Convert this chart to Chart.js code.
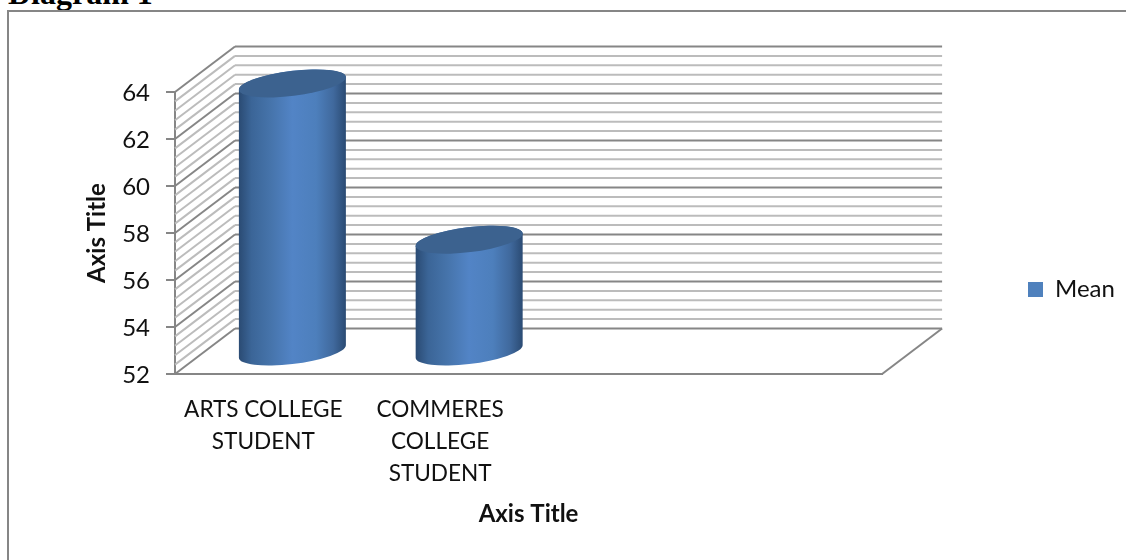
<!DOCTYPE html>
<html>
<head>
<meta charset="utf-8"/>
<title>Diagram 1</title>
<style>
    html, body { margin: 0; padding: 0; background: #fff; overflow: hidden; }
    #wrap { position: relative; width: 1126px; height: 560px; overflow: hidden; }
    #heading { position: absolute; left: 8px; top: -25px; font: bold 32px "Liberation Serif", serif; line-height: 37px; color: #000; }
    canvas { position: absolute; left: 0; top: 0; }
</style>
</head>
<body>
<div id="wrap">
    <div id="heading">Diagram 1</div>
    <canvas id="chart" width="1126" height="560"></canvas>
</div>

<script src="https://cdn.jsdelivr.net/npm/chart.js@4/dist/chart.umd.min.js"></script>
<script type="text/javascript">

const categories = [["ARTS COLLEGE", "STUDENT"], ["COMMERES", "COLLEGE", "STUDENT"], "", ""];
const meanValues = [63.45, 56.8, null, null];
const seriesName = "Mean";
const xTitle = "Axis Title";
const yTitle = "Axis Title";
const yMin = 52;
const yMax = 64;
const yStep = 2;

// the floor and side wall recede by this much, front plane to back plane
const DEPTH_X = 60;
const DEPTH_Y = -45.5;
// where the cylinders stand on the floor, relative to the front plane
const CYL_X = 29;
const CYL_Y = -21.5;
const WALL_DIVISIONS = 5;
const AXIS_GREY = "#868686";
const MINOR_GREY = "#bcbcbc";
const FONT = "Lato, Carlito, sans-serif";
const TEXT = "#111";

function line(ctx, x1, y1, x2, y2)
{
    ctx.beginPath();
    ctx.moveTo(x1, y1);
    ctx.lineTo(x2, y2);
    ctx.stroke();
}

// frame round the chart, it runs off the right and bottom of the page
function drawFrame(chart)
{
    const ctx = chart.ctx;
    ctx.save();
    ctx.strokeStyle = AXIS_GREY;
    ctx.lineWidth = 2;
    ctx.beginPath();
    ctx.moveTo(8, chart.height);
    ctx.lineTo(8, 11);
    ctx.lineTo(chart.width, 11);
    ctx.stroke();
    ctx.restore();
}

function drawWalls(chart)
{
    const ctx = chart.ctx;
    const area = chart.chartArea;
    const y = chart.scales.y;
    const n = (yMax - yMin) / yStep * WALL_DIVISIONS;

    ctx.save();
    ctx.lineWidth = 2;
    for (let i = 0; i <= n; i++)
    {
        const py = y.getPixelForValue(yMin + i * yStep / WALL_DIVISIONS);
        ctx.strokeStyle = i % WALL_DIVISIONS == 0 ? AXIS_GREY : MINOR_GREY;
        line(ctx, area.left, py, area.left + DEPTH_X, py + DEPTH_Y);
        line(ctx, area.left + DEPTH_X, py + DEPTH_Y, area.right + DEPTH_X, py + DEPTH_Y);
    }
    // right hand edge of the floor
    ctx.strokeStyle = AXIS_GREY;
    line(ctx, area.right, area.bottom, area.right + DEPTH_X, area.bottom + DEPTH_Y);
    ctx.restore();
}

// draws a bar element as a tilted cylinder standing mid way into the floor
function drawCylinder(ctx)
{
    const cx = this.x + CYL_X;
    const top = this.y + CYL_Y;
    const bottom = this.base + CYL_Y;
    const rx = this.width / 2 + 0.4;
    const ry = 12.5;
    const tilt = -7 * Math.PI / 180;
    // angle on the ellipse where its right side is furthest out
    const t0 = Math.atan(-(ry / rx) * Math.tan(tilt));

    const grad = ctx.createLinearGradient(cx - rx, 0, cx + rx, 0);
    grad.addColorStop(0, "#2a4a72");
    grad.addColorStop(0.12, "#3b6597");
    grad.addColorStop(0.3, "#4674ab");
    grad.addColorStop(0.5, "#5284c6");
    grad.addColorStop(0.72, "#4d7fbc");
    grad.addColorStop(0.88, "#40699d");
    grad.addColorStop(1, "#2a4a72");

    ctx.save();
    ctx.fillStyle = grad;
    ctx.beginPath();
    ctx.ellipse(cx, bottom, rx, ry, tilt, t0, t0 + Math.PI, false);
    ctx.ellipse(cx, top, rx, ry, tilt, t0 + Math.PI, t0, false);
    ctx.closePath();
    ctx.fill();

    ctx.fillStyle = "#3c628f";
    ctx.beginPath();
    ctx.ellipse(cx, top, rx, ry, tilt, 0, Math.PI * 2);
    ctx.fill();
    ctx.restore();
}

const box3d = {
    id: "box3d",
    beforeDraw: drawFrame,
    afterLayout(chart) {
        // legend sits apart from the plot, out past the floor's corner
        const legend = chart.legend;
        const w = legend.right - legend.left;
        legend.left = 1018;
        legend.right = legend.left + w;
        legend.top -= 21;
        legend.bottom -= 21;
    },
    beforeDatasetsDraw(chart) {
        drawWalls(chart);
        chart.getDatasetMeta(0).data.forEach(function(bar) { bar.draw = drawCylinder; });
    }
};

new Chart(document.getElementById("chart"), {
    type: "bar",
    data: {
        labels: categories,
        datasets: [{
            label: seriesName,
            data: meanValues,
            base: yMin,
            backgroundColor: "#4f81bd",
            barPercentage: 0.605,
            categoryPercentage: 1,
            clip: false
        }]
    },
    plugins: [box3d],
    options: {
        responsive: false,
        animation: false,
        layout: { padding: { left: 83, top: 92, right: 137, bottom: 31 } },
        plugins: {
            tooltip: { enabled: false },
            legend: {
                position: "right",
                labels: {
                    boxWidth: 15,
                    boxHeight: 15,
                    padding: 10,
                    color: TEXT,
                    font: { family: FONT, size: 24 }
                }
            }
        },
        scales: {
            x: {
                afterFit(scale) { scale.height = 155; },
                grid: { display: false, drawTicks: false },
                border: { display: true, color: AXIS_GREY, width: 2 },
                ticks: {
                    autoSkip: false,
                    maxRotation: 0,
                    padding: 20,
                    color: TEXT,
                    font: { family: FONT, size: 22.6, lineHeight: 1.416 }
                },
                title: {
                    display: true,
                    text: xTitle,
                    color: TEXT,
                    padding: { top: 4, bottom: 0 },
                    font: { family: FONT, size: 24, weight: "bold" }
                }
            },
            y: {
                min: yMin,
                max: yMax,
                afterFit(scale) { scale.width = 92; },
                grid: { drawOnChartArea: false, color: AXIS_GREY, lineWidth: 2, tickLength: 9 },
                border: { display: true, color: AXIS_GREY, width: 2 },
                ticks: {
                    stepSize: yStep,
                    padding: 16,
                    labelOffset: 1.5,
                    color: TEXT,
                    font: { family: FONT, size: 24 }
                },
                title: {
                    display: true,
                    text: yTitle,
                    color: TEXT,
                    padding: 0,
                    font: { family: FONT, size: 24, weight: "bold" }
                }
            }
        }
    }
});

</script>
</body>
</html>
